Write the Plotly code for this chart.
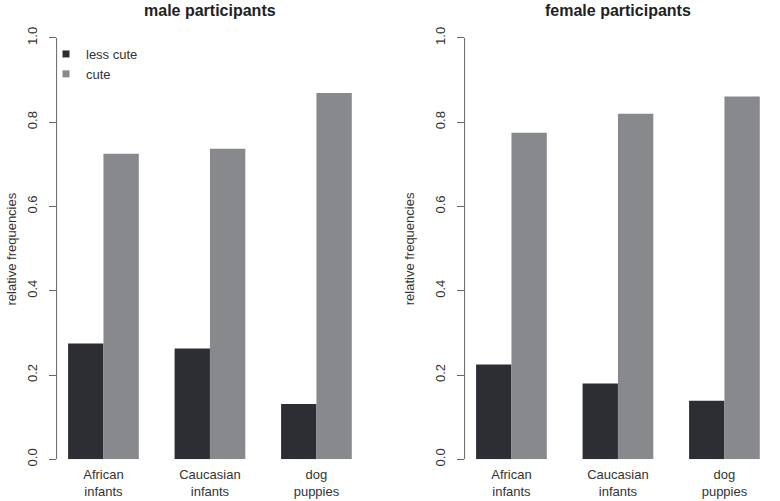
import plotly.graph_objects as go

# ---- data ----
categories = ["African infants", "Caucasian infants", "dog puppies"]
tick_labels = ["African<br>infants", "Caucasian<br>infants", "dog<br>puppies"]
series_names = ["less cute", "cute"]
male_less_cute = [0.275, 0.263, 0.131]
male_cute = [0.725, 0.737, 0.869]
female_less_cute = [0.225, 0.180, 0.139]
female_cute = [0.775, 0.820, 0.861]
panel_titles = ["male participants", "female participants"]
y_ticks = [0.0, 0.2, 0.4, 0.6, 0.8, 1.0]
y_title = "relative frequencies"

DARK = "#2d2e33"
GREY = "#88898c"
TXT = "#333333"
FONT = "Liberation Sans, Arial, Helvetica, sans-serif"
W, H = 780, 501

def px(x):
    return x / W

def py(y):
    return 1 - y / H

fig = go.Figure()

panels = [
    ("x", "y", male_less_cute, male_cute),
    ("x2", "y2", female_less_cute, female_cute),
]
for xa, ya, less, cute in panels:
    fig.add_trace(go.Bar(x=categories, y=less, name=series_names[0], marker=dict(color=DARK, line=dict(width=0)),
                         xaxis=xa, yaxis=ya, showlegend=False))
    fig.add_trace(go.Bar(x=categories, y=cute, name=series_names[1], marker=dict(color=GREY, line=dict(width=0)),
                         xaxis=xa, yaxis=ya, showlegend=False))

# legend entries (small square keys as in the original)
for name, col in zip(series_names, [DARK, GREY]):
    fig.add_trace(go.Scatter(x=[None], y=[None], mode="markers", name=name,
                             marker=dict(symbol="square", size=7, color=col), xaxis="x", yaxis="y"))

xdom1 = [px(56.6), px(363.3)]
xdom2 = [px(464.6), px(771.3)]
ydom = [py(459.3), py(20.94)]

xaxis_common = dict(
    type="category", range=[-0.44, 2.44], showline=False, showgrid=False, zeroline=False,
    ticks="", tickvals=categories, ticktext=tick_labels, automargin=False,
    tickfont=dict(family=FONT, size=13, color=TXT), fixedrange=True, ticklabelstandoff=6,
)
yaxis_common = dict(
    range=[0, 1.04], showline=False, showgrid=False, zeroline=False,
    tickvals=y_ticks, ticktext=["%.1f" % v for v in y_ticks], ticks="outside", ticklen=7,
    tickcolor="#666666", tickwidth=1, tickangle=-90, automargin=False,
    tickfont=dict(family=FONT, size=13, color=TXT), ticklabelstandoff=6,
)

fig.update_layout(
    width=W, height=H,
    margin=dict(l=0, r=0, t=0, b=0),
    paper_bgcolor="white", plot_bgcolor="white",
    barmode="group", bargap=0.336, bargroupgap=0,
    xaxis=dict(domain=xdom1, anchor="y", **xaxis_common),
    yaxis=dict(domain=ydom, anchor="x", **yaxis_common),
    xaxis2=dict(domain=xdom2, anchor="y2", **xaxis_common),
    yaxis2=dict(domain=ydom, anchor="x2", **yaxis_common),
    showlegend=True,
    legend=dict(x=px(46), y=py(39), xanchor="left", yanchor="top", bgcolor="rgba(0,0,0,0)",
                font=dict(family=FONT, size=13, color=TXT), itemwidth=30, tracegroupgap=0),
    font=dict(family=FONT, color=TXT),
)

# axis lines spanning 0..1 only (R style)
for xa, ya in [("x", "y"), ("x2", "y2")]:
    fig.add_shape(type="line", xref=f"{xa} domain", yref=ya, x0=0, x1=0, y0=0, y1=1,
                  line=dict(color="#666666", width=1))

annotations = []
for cx, t in zip([210, 618], panel_titles):
    annotations.append(dict(x=px(cx), y=py(0), xref="paper", yref="paper", text="<b>%s</b>" % t,
                            showarrow=False, xanchor="center", yanchor="top",
                            font=dict(family=FONT, size=16, color="#222222")))
for cx in [1, 409.3]:
    annotations.append(dict(x=px(cx), y=py(249), xref="paper", yref="paper", text=y_title,
                            showarrow=False, xanchor="left" if cx < 5 else "center", yanchor="middle",
                            textangle=-90, font=dict(family=FONT, size=13, color=TXT)))
fig.update_layout(annotations=annotations)

fig.write_html("out.html")
